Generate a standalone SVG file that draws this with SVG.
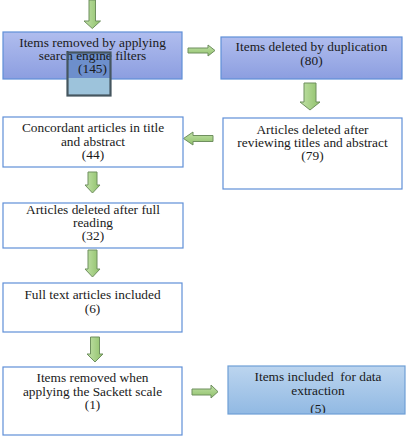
<svg xmlns="http://www.w3.org/2000/svg" width="410" height="438" viewBox="0 0 410 438" font-family="'Liberation Serif', 'Times New Roman', serif">
<defs>
<linearGradient id="gBlue" x1="0" y1="0" x2="0" y2="1"><stop offset="0" stop-color="#b0bdee"/><stop offset="1" stop-color="#8c9ee0"/></linearGradient>
<linearGradient id="gLight" x1="0" y1="0" x2="0" y2="1"><stop offset="0" stop-color="#bcd5ef"/><stop offset="1" stop-color="#91b9e3"/></linearGradient>
<linearGradient id="gGreenV" x1="0" y1="0" x2="1" y2="0"><stop offset="0" stop-color="#c2e2a8"/><stop offset="1" stop-color="#8fc06a"/></linearGradient>
<linearGradient id="gGreenH" x1="0" y1="0" x2="0" y2="1"><stop offset="0" stop-color="#c2e2a8"/><stop offset="1" stop-color="#8fc06a"/></linearGradient>
<clipPath id="clip8"><rect x="228" y="366" width="177" height="47"/></clipPath>
</defs>
<style>
.box{stroke:#5f8fd8;stroke-width:1.2}
.white{fill:#ffffff}
.blue{fill:url(#gBlue)}
.light{fill:url(#gLight);stroke:#6e9fd6}
text{font-family:'Liberation Serif','Times New Roman',serif;font-size:12.5px;fill:#1a1a1a;text-anchor:middle}
.av{fill:url(#gGreenV);stroke:#6f8f5f;stroke-width:1}
.ah{fill:url(#gGreenH);stroke:#6f8f5f;stroke-width:1}
</style>
<g id="connectors">
<path class="av" d="M89,0 H95.5 V21 H100.5 L92.3,28.5 L84,21 H89 Z"/>
<path class="ah" d="M188,48 H208 V45 L215,50.5 L208,56 V53 H188 Z"/>
<path class="av" d="M304,83 H316 V102 H320 L310,110 L300,102 H304 Z"/>
<path class="ah" d="M213,135.5 H193 V132 L183.5,138.5 L193,145 V141.5 H213 Z"/>
<path class="av" d="M88,172 H97 V185 H100 L92.5,193 L85,185 H88 Z"/>
<path class="av" d="M88,250 H97 V269 H100 L92.5,277 L85,269 H88 Z"/>
<path class="av" d="M90.5,337 H99.5 V354 H103 L95,362 L87,354 H90.5 Z"/>
<path class="ah" d="M192,389 H211 V385 L218,391.7 L211,398 V395 H192 Z"/>
</g>
<g id="n1">
<rect class="box blue" x="3" y="32" width="179" height="47"/>
<rect x="67.5" y="52.5" width="43" height="43" fill="#9dc3db"/>
<rect x="67.5" y="52.5" width="43" height="25.5" fill="#6d8fcc"/>
<g transform="translate(92.5 0) scale(1.07 1) translate(-92.5 0)">
<text x="92.5" y="47">Items removed by applying</text>
<text x="92.5" y="60.5">search engine filters</text>
<text x="92.5" y="73.5">(145)</text>
</g>
<rect x="67.5" y="52.5" width="43" height="43" fill="none" stroke="#45565f" stroke-width="2.2"/>
</g>
<g id="n2">
<rect class="box blue" x="221" y="37" width="181" height="42"/>
<g transform="translate(311.5 0) scale(1.07 1) translate(-311.5 0)">
<text x="311.5" y="51">Items deleted by duplication</text>
<text x="311.5" y="65">(80)</text>
</g>
</g>
<g id="n3">
<rect class="box white" x="223" y="118" width="179" height="71"/>
<g transform="translate(312.5 0) scale(1.07 1) translate(-312.5 0)">
<text x="312.5" y="134">Articles deleted after</text>
<text x="312.5" y="147">reviewing titles and abstract</text>
<text x="312.5" y="160">(79)</text>
</g>
</g>
<g id="n4">
<rect class="box white" x="3" y="117" width="180" height="50"/>
<g transform="translate(93 0) scale(1.07 1) translate(-93 0)">
<text x="93" y="132">Concordant articles in title</text>
<text x="93" y="146">and abstract</text>
<text x="93" y="159">(44)</text>
</g>
</g>
<g id="n5">
<rect class="box white" x="3" y="203" width="180" height="45"/>
<g transform="translate(93 0) scale(1.07 1) translate(-93 0)">
<text x="93" y="214">Articles deleted after full</text>
<text x="93" y="227">reading</text>
<text x="93" y="240">(32)</text>
</g>
</g>
<g id="n6">
<rect class="box white" x="3" y="283" width="179" height="49"/>
<g transform="translate(92.5 0) scale(1.07 1) translate(-92.5 0)">
<text x="92.5" y="299">Full text articles included</text>
<text x="92.5" y="313">(6)</text>
</g>
</g>
<g id="n7">
<rect class="box white" x="3" y="367" width="179" height="68"/>
<g transform="translate(92.5 0) scale(1.07 1) translate(-92.5 0)">
<text x="92.5" y="382">Items removed when</text>
<text x="92.5" y="396">applying the Sackett scale</text>
<text x="92.5" y="409">(1)</text>
</g>
</g>
<g id="n8">
<rect class="box light" x="228" y="366" width="177" height="48"/>
<g clip-path="url(#clip8)">
<g transform="translate(318 0) scale(1.07 1) translate(-318 0)">
<text x="318" y="381" xml:space="preserve">Items included  for data</text>
<text x="318" y="395">extraction</text>
<text x="318" y="413">(5)</text>
</g>
</g>
</g>
</svg>
